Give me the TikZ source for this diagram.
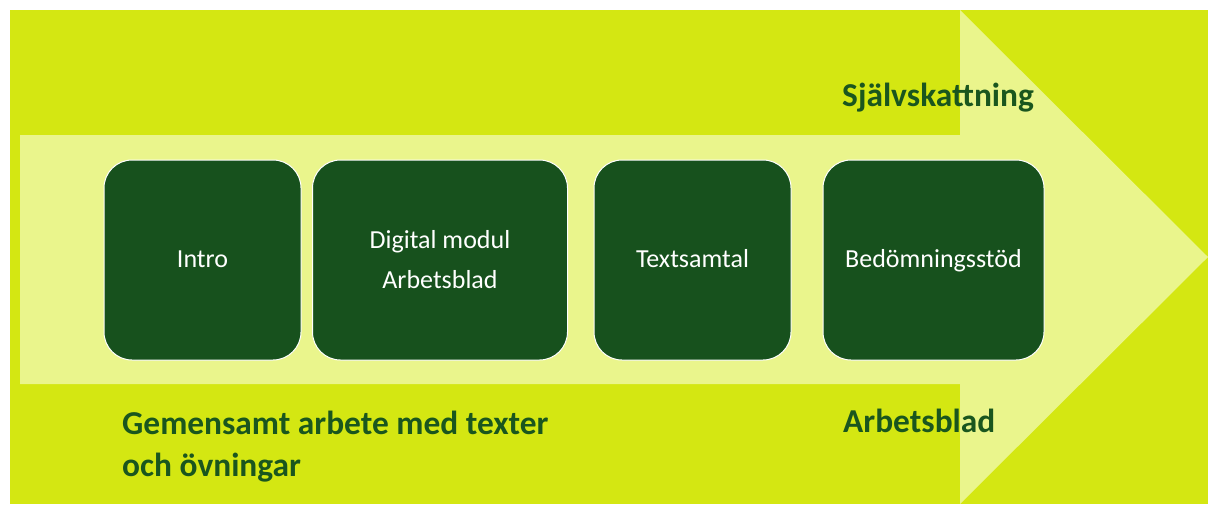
\documentclass[tikz,border=0pt]{standalone}
\usepackage{fontspec}
\setmainfont{Carlito}
\definecolor{limebg}{RGB}{212,231,18}
\definecolor{arrowlight}{RGB}{234,245,140}
\definecolor{boxgreen}{RGB}{23,81,29}
\definecolor{labelgreen}{RGB}{26,86,30}
\begin{document}
\begin{tikzpicture}
[x=1pt, y=-1pt,
step0/.style={rectangle, draw=white, line width=1pt, fill=boxgreen, rounded corners=28pt, minimum height=200pt, inner sep=0pt, text=white, align=center, font=\fontsize{26}{40}\selectfont},
oneline/.style={text height=18pt, text depth=4pt},
side/.style={anchor=base west, inner sep=0pt, text=labelgreen, align=left, font=\fontsize{33.4}{42}\selectfont\bfseries}
]

\useasboundingbox (0,0) rectangle (1208,504);
\fill[limebg] (10,10) rectangle (1208,504);
\fill[arrowlight] (20,135) -- (960,135) -- (960,10) -- (1208,257) -- (960,504) -- (960,384) -- (20,384) -- cycle;

\node[step0, oneline, minimum width=197pt] (intro) at (202.5,260) {Intro};
\node[step0, minimum width=255pt] (modul) at (440,260) {Digital modul\\Arbetsblad};
\node[step0, oneline, minimum width=197pt] (samtal) at (692.5,260) {Textsamtal};
\node[step0, oneline, minimum width=221pt] (stod) at (933.5,260) {Bedömningsstöd};

\node[side] (sjalv) at (842,106) {Självskattning};
\node[side] (blad) at (843,432) {Arbetsblad};
\node[side] (gemensamt) at (122,476) {Gemensamt arbete med texter\\och övningar};

\end{tikzpicture}
\end{document}
